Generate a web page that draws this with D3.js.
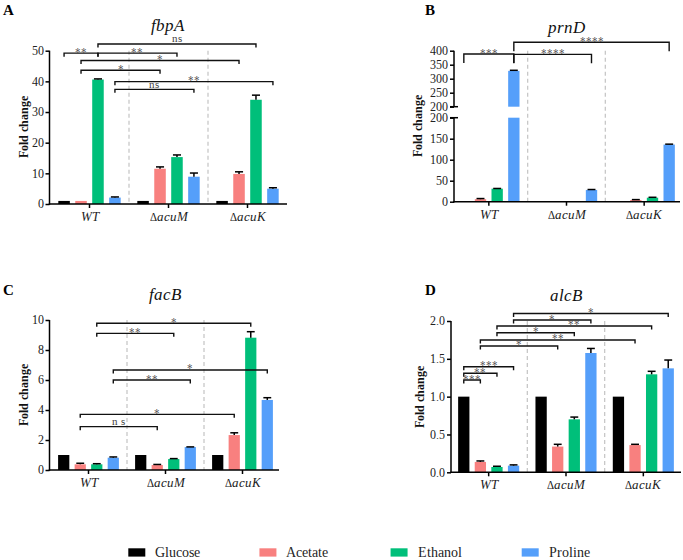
<!DOCTYPE html>
<html><head><meta charset="utf-8">
<script src="https://cdn.jsdelivr.net/npm/d3@7"></script>
<style>
@font-face{font-family:'RefSerif';font-style:normal;font-weight:400;src:local('Liberation Serif'),local('LiberationSerif'),local('LiberationSerif-Regular'),local('DejaVu Serif'),local('DejaVuSerif'),local('Times New Roman');}
@font-face{font-family:'RefSerif';font-style:italic;font-weight:400;src:local('Liberation Serif Italic'),local('LiberationSerif-Italic'),local('DejaVu Serif Italic'),local('DejaVuSerif-Italic');}
@font-face{font-family:'RefSerif';font-style:normal;font-weight:700;src:local('Liberation Serif Bold'),local('LiberationSerif-Bold'),local('DejaVu Serif Bold'),local('DejaVuSerif-Bold');}
body{margin:0;background:#fff}
svg{display:block}
</style>
</head><body>
<svg id="chart" width="683" height="560"></svg>
<script>
// ---------- DATA ----------
const categories = ["WT", "ΔacuM", "ΔacuK"];
const series = ["Glucose", "Acetate", "Ethanol", "Proline"];
const seriesColors = ["#000000", "#F8807F", "#00BF7A", "#559FFA"];

// means per category (rows) x series (cols)
const fbpA_mean = [[1.0, 1.0, 40.6, 2.1], [1.0, 11.5, 15.3, 8.9], [1.0, 9.8, 34.0, 5.0]];
const fbpA_err  = [[0, 0, 0.2, 0.2], [0, 0.6, 0.7, 1.2], [0, 0.7, 1.5, 0.3]];
const prnD_mean = [[1.0, 6.0, 31.0, 328.0], [1.0, 0.2, 0.2, 28.0], [1.0, 4.0, 9.5, 136.0]];
const prnD_err  = [[0, 1.5, 0.5, 2.0], [0, 0, 0, 1.0], [0, 1.0, 1.0, 1.0]];
const facB_mean = [[1.0, 0.38, 0.38, 0.82], [1.0, 0.33, 0.73, 1.53], [1.0, 2.33, 8.82, 4.67]];
const facB_err  = [[0, 0.07, 0.04, 0.05], [0, 0.04, 0.03, 0.01], [0, 0.15, 0.40, 0.15]];
const alcB_mean = [[1.0, 0.137, 0.07, 0.088], [1.0, 0.34, 0.70, 1.577], [1.0, 0.36, 1.295, 1.374]];
const alcB_err  = [[0, 0.013, 0.01, 0.01], [0, 0.03, 0.03, 0.06], [0, 0.01, 0.04, 0.11]];

// significance brackets: [label, fromCategory, fromSeries, toCategory, toSeries, level]
const fbpA_brackets = [
  ["**", 0, 0, 0, 2, 49.2], ["**", 0, 2, 1, 2, 49.2], ["ns", 0, 2, 2, 2, 52.2],
  ["*", 0, 1, 2, 1, 46.8], ["*", 0, 1, 1, 1, 43.6], ["**", 0, 3, 2, 3, 39.9], ["ns", 0, 3, 1, 3, 37.4]
];
const prnD_brackets = [
  ["***", 0, 0, 0, 3, 388], ["****", 0, 3, 1, 3, 387], ["****", 0, 3, 2, 3, 430]
];
const facB_brackets = [
  ["*", 0, 2, 2, 2, 9.78], ["**", 0, 2, 1, 2, 9.11], ["*", 0, 3, 2, 3, 6.67],
  ["**", 0, 3, 1, 3, 6.0], ["*", 0, 1, 2, 1, 3.71], ["n s", 0, 1, 1, 1, 2.89]
];
const alcB_brackets = [
  ["*", 0, 3, 2, 3, 2.10], ["*", 0, 3, 1, 3, 2.013], ["**", 0, 2, 2, 2, 1.934],
  ["*", 0, 2, 1, 2, 1.845], ["**", 0, 1, 2, 1, 1.749], ["*", 0, 1, 1, 1, 1.67],
  ["***", 0, 0, 0, 3, 1.396], ["**", 0, 0, 0, 2, 1.309], ["***", 0, 0, 0, 1, 1.22]
];

const fbpA_ticks = [0, 10, 20, 30, 40, 50];
const prnD_ticksLow = [0, 50, 100, 150, 200];
const prnD_ticksHigh = [200, 250, 300, 350, 400];
const facB_ticks = [0, 2, 4, 6, 8, 10];
const alcB_ticks = [0, 0.5, 1.0, 1.5, 2.0];

// ---------- LAYOUT ----------
const FONT = "RefSerif, 'Liberation Serif', 'DejaVu Serif', serif";
const svg = d3.select("#chart").style("font-family", FONT);
svg.append("rect").attr("width", 683).attr("height", 560).attr("fill", "#fff");

const panels = [
  {letter: "A", title: "fbpA", mean: fbpA_mean, err: fbpA_err, br: fbpA_brackets, drop: 3.5,
   band: [50, 287], axisX: 49.5, axisEnd: 287,
   segs: [{domain: [0, 50], range: [204, 50.7], ticks: fbpA_ticks, fmt: d3.format("d")}],
   letterPos: [3, 15], titlePos: [167, 31], ylabX: 28},
  {letter: "B", title: "prnD", mean: prnD_mean, err: prnD_err, br: prnD_brackets, drop: 9,
   band: [450, 683], axisX: 454, axisEnd: 680,
   segs: [{domain: [0, 200], range: [201.7, 117.7], ticks: prnD_ticksLow, fmt: d3.format("d")},
          {domain: [200, 400], range: [106.7, 50.7], ticks: prnD_ticksHigh, fmt: d3.format("d")}],
   letterPos: [425, 15], titlePos: [566, 33], ylabX: 422},
  {letter: "C", title: "facB", mean: facB_mean, err: facB_err, br: facB_brackets, drop: 3.5,
   band: [50, 281], axisX: 49.5, axisEnd: 279,
   segs: [{domain: [0, 10], range: [470, 320], ticks: facB_ticks, fmt: d3.format("d")}],
   letterPos: [3, 295], titlePos: [165, 300], ylabX: 28},
  {letter: "D", title: "alcB", mean: alcB_mean, err: alcB_err, br: alcB_brackets, drop: 3.5,
   band: [450, 682], axisX: 451, axisEnd: 681,
   segs: [{domain: [0, 2], range: [472.3, 321], ticks: alcB_ticks, fmt: d3.format(".1f")}],
   letterPos: [425, 295], titlePos: [565.5, 300.7], ylabX: 424}
];

panels.forEach(p => {
  const g = svg.append("g");
  const x = d3.scaleBand().domain(d3.range(categories.length)).range(p.band).paddingInner(0).paddingOuter(0);
  const xs = d3.scaleBand().domain(d3.range(series.length)).range([0, x.bandwidth()]).paddingInner(0.32).paddingOuter(0.49);
  const scales = p.segs.map(s => d3.scaleLinear().domain(s.domain).range(s.range));
  const yOf = v => {
    for (let i = 0; i < scales.length; i++) {
      const d = scales[i].domain();
      if (v <= d[1] || i === scales.length - 1) return scales[i](v);
    }
  };
  const yBottom = p.segs[0].range[0];
  const yTopPx = p.segs[p.segs.length - 1].range[1];

  for (let c = 1; c < categories.length; c++) {
    g.append("line").attr("x1", x(c)).attr("x2", x(c)).attr("y1", yTopPx).attr("y2", yBottom)
      .attr("stroke", "#c8c8c8").attr("stroke-width", 1.3).attr("stroke-dasharray", "4,3");
  }

  categories.forEach((cat, ci) => {
    series.forEach((s, si) => {
      const v = p.mean[ci][si];
      const bx = x(ci) + xs(si), bw = xs.bandwidth();
      scales.forEach((sc, k) => {
        const d = sc.domain();
        if (v <= d[0]) return;
        const top = Math.min(v, d[1]);
        g.append("rect").attr("x", bx).attr("width", bw)
          .attr("y", sc(top)).attr("height", sc(d[0]) - sc(top))
          .attr("fill", seriesColors[si]);
      });
      const e = p.err[ci][si];
      if (e > 0) {
        const cx = bx + bw / 2;
        g.append("line").attr("x1", cx).attr("x2", cx).attr("y1", yOf(v)).attr("y2", yOf(v + e))
          .attr("stroke", "#000").attr("stroke-width", 1.5);
        g.append("line").attr("x1", cx - bw * 0.35).attr("x2", cx + bw * 0.35)
          .attr("y1", yOf(v + e)).attr("y2", yOf(v + e)).attr("stroke", "#000").attr("stroke-width", 1.5);
      }
    });
  });

  p.segs.forEach((s, k) => {
    const ax = d3.axisLeft(scales[k]).tickValues(s.ticks).tickFormat(s.fmt).tickSize(4).tickSizeOuter(0).tickPadding(2);
    const ag = g.append("g").attr("transform", `translate(${p.axisX},0)`).call(ax).attr("font-family", null);
    ag.select(".domain").remove();
    ag.selectAll(".tick line").attr("stroke", "#000").attr("stroke-width", 1.5);
    ag.selectAll(".tick text").attr("font-size", p.segs.length > 1 ? 11.5 : 12).attr("fill", "#222");
    g.append("line").attr("x1", p.axisX).attr("x2", p.axisX)
      .attr("y1", s.range[0] + (k === 0 ? 0.75 : 0)).attr("y2", s.range[1])
      .attr("stroke", "#000").attr("stroke-width", 1.5);
  });
  if (p.segs.length > 1) {
    [p.segs[0].range[1], p.segs[1].range[0]].forEach(yy => {
      g.append("line").attr("x1", p.axisX - 4).attr("x2", p.axisX + 4).attr("y1", yy).attr("y2", yy)
        .attr("stroke", "#000").attr("stroke-width", 1.5);
    });
  }

  g.append("line").attr("x1", p.axisX - 0.75).attr("x2", p.axisEnd).attr("y1", yBottom).attr("y2", yBottom)
    .attr("stroke", "#000").attr("stroke-width", 1.5);
  categories.forEach((cat, ci) => {
    const cx = x(ci) + x.bandwidth() / 2;
    g.append("line").attr("x1", cx).attr("x2", cx).attr("y1", yBottom).attr("y2", yBottom + 4)
      .attr("stroke", "#000").attr("stroke-width", 1.5);
    const t = g.append("text").attr("x", cx).attr("y", yBottom + 17).attr("text-anchor", "middle")
      .attr("font-size", 12.5).attr("fill", "#222");
    if (cat.startsWith("Δ")) {
      t.append("tspan").attr("font-size", 10.5).text("Δ");
      t.append("tspan").attr("font-style", "italic").text(cat.slice(1));
    } else {
      t.append("tspan").attr("font-style", "italic").text(cat);
    }
  });

  const barCenter = (ci, si) => x(ci) + xs(si) + xs.bandwidth() / 2;
  p.br.forEach(b => {
    const [lab, c1, s1, c2, s2, lvl] = b;
    const x1 = barCenter(c1, s1), x2 = barCenter(c2, s2), yy = yOf(lvl);
    g.append("path").attr("d", `M${x1},${yy + p.drop}V${yy}H${x2}V${yy + p.drop}`)
      .attr("fill", "none").attr("stroke", "#111").attr("stroke-width", 1.4);
    const isStar = lab.indexOf("*") >= 0;
    g.append("text").attr("x", (x1 + x2) / 2).attr("y", isStar ? yy + 2.5 : yy - 1.5)
      .attr("text-anchor", "middle").attr("font-size", 10.5).attr("fill", "#444").text(lab);
  });

  g.append("text").attr("x", p.titlePos[0]).attr("y", p.titlePos[1]).attr("text-anchor", "middle")
    .attr("font-size", 17).attr("font-style", "italic").attr("fill", "#111").text(p.title);
  g.append("text").attr("x", p.letterPos[0]).attr("y", p.letterPos[1])
    .attr("font-size", 15).attr("font-weight", "bold").attr("fill", "#000").text(p.letter);
  g.append("text").attr("transform", `translate(${p.ylabX},${(yBottom + yTopPx) / 2}) rotate(-90)`)
    .attr("text-anchor", "middle").attr("font-size", 12).attr("font-weight", "bold").attr("fill", "#111")
    .text("Fold change");
});

const legend = svg.append("g");
const lx = d3.scalePoint().domain(series).range([128.3, 521.7]);
series.forEach((s, i) => {
  legend.append("rect").attr("x", lx(s)).attr("y", 548.3).attr("width", 17).attr("height", 8.3)
    .attr("fill", seriesColors[i]);
  legend.append("text").attr("x", lx(s) + 27).attr("y", 557).attr("font-size", 14).attr("fill", "#222").text(s);
});
</script>
</body></html>
